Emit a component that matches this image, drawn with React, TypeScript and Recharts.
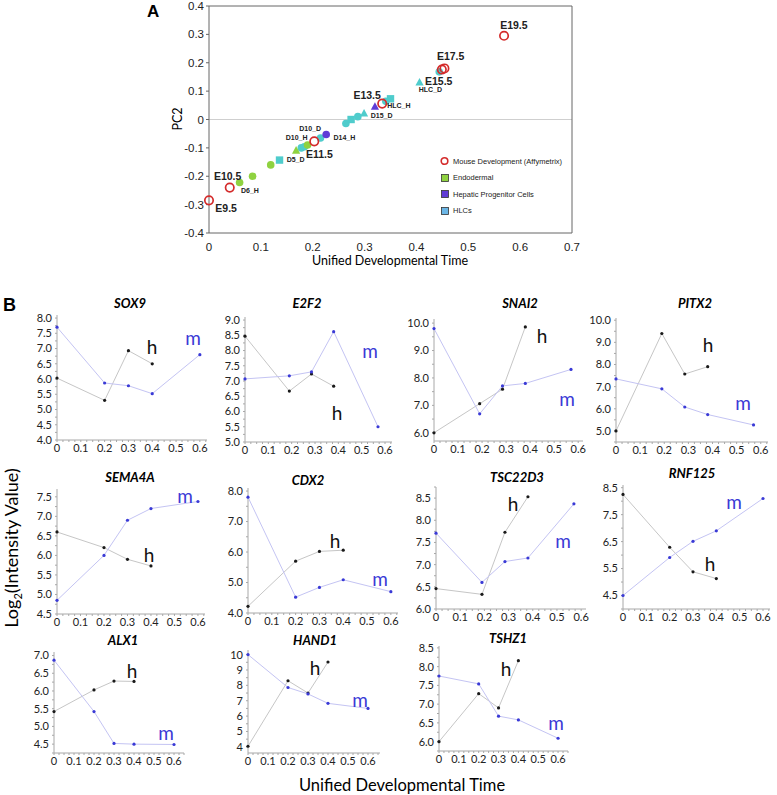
import React from "react";
import { ReferenceLine, Scatter, ScatterChart, XAxis, YAxis } from "recharts";

// ---- panel A: PC2 vs unified developmental time ----
const mouseDevelopment = [
  { x: 0, y: -0.285 },
  { x: 0.04, y: -0.24 },
  { x: 0.203, y: -0.077 },
  { x: 0.334, y: 0.056 },
  { x: 0.449, y: 0.176 },
  { x: 0.454, y: 0.18 },
  { x: 0.569, y: 0.295 },
];

const endodermal = [
  { x: 0.059, y: -0.222, marker: "circle" },
  { x: 0.084, y: -0.2, marker: "circle" },
  { x: 0.119, y: -0.16, marker: "circle" },
  { x: 0.168, y: -0.11, marker: "triangle" },
  { x: 0.19, y: -0.09, marker: "circle" },
];

const progenitor = [
  { x: 0.226, y: -0.053, marker: "circle" },
  { x: 0.32, y: 0.045, marker: "triangle" },
];

const hlcs = [
  { x: 0.136, y: -0.143, marker: "square" },
  { x: 0.178, y: -0.1, marker: "circle" },
  { x: 0.184, y: -0.096, marker: "circle" },
  { x: 0.215, y: -0.065, marker: "circle" },
  { x: 0.264, y: -0.014, marker: "circle" },
  { x: 0.274, y: 0.0, marker: "square" },
  { x: 0.287, y: 0.01, marker: "circle" },
  { x: 0.299, y: 0.021, marker: "triangle" },
  { x: 0.341, y: 0.064, marker: "circle" },
  { x: 0.35, y: 0.073, marker: "square" },
  { x: 0.406, y: 0.13, marker: "triangle" },
  { x: 0.444, y: 0.168, marker: "circle" },
];

const stageLabels = [
  { x: 0.033, y: -0.326, text: "E9.5" },
  { x: 0.036, y: -0.214, text: "E10.5" },
  { x: 0.213, y: -0.137, text: "E11.5" },
  { x: 0.305, y: 0.074, text: "E13.5" },
  { x: 0.443, y: 0.123, text: "E15.5" },
  { x: 0.466, y: 0.21, text: "E17.5" },
  { x: 0.588, y: 0.319, text: "E19.5" },
];

const sampleLabels = [
  { x: 0.079, y: -0.26, text: "D6_H" },
  { x: 0.167, y: -0.151, text: "D5_D" },
  { x: 0.169, y: -0.074, text: "D10_H" },
  { x: 0.195, y: -0.039, text: "D10_D" },
  { x: 0.261, y: -0.074, text: "D14_H" },
  { x: 0.333, y: 0.004, text: "D15_D" },
  { x: 0.366, y: 0.039, text: "HLC_H" },
  { x: 0.427, y: 0.098, text: "HLC_D" },
];

const pcTicks = [-0.4, -0.3, -0.2, -0.1, 0, 0.1, 0.2, 0.3, 0.4];
const timeTicksA = [0, 0.1, 0.2, 0.3, 0.4, 0.5, 0.6, 0.7];
const legendItems = ["Mouse Development (Affymetrix)", "Endodermal", "Hepatic Progenitor Cells", "HLCs"];

// ---- panel B: log2 intensity per gene ----
const timeEven = [0, 0.2, 0.3, 0.4, 0.6];
const timeShifted = [0, 0.19, 0.285, 0.38, 0.57];
const timeTicksB = [0, 0.1, 0.2, 0.3, 0.4, 0.5, 0.6];

const sox9Mouse = [7.7, 5.87, 5.78, 5.52, 6.8];
const sox9Human = [6.03, 5.3, 6.93, 6.5];
const e2f2Mouse = [7.07, 7.17, 7.3, 8.62, 5.5];
const e2f2Human = [8.47, 6.67, 7.23, 6.83];
const snai2Mouse = [9.8, 6.69, 7.71, 7.8, 8.31];
const snai2Human = [6.0, 7.06, 7.59, 9.86];
const pitx2Mouse = [7.35, 6.9, 6.08, 5.74, 5.27];
const pitx2Human = [5.0, 9.4, 7.57, 7.9];
const sema4aMouse = [4.85, 6.0, 6.9, 7.2, 7.38];
const sema4aHuman = [6.6, 6.2, 5.9, 5.73];
const cdx2Mouse = [7.8, 4.52, 4.84, 5.09, 4.7];
const cdx2Human = [4.22, 5.7, 6.02, 6.06];
const tsc22d3Mouse = [7.71, 6.6, 7.07, 7.15, 8.37];
const tsc22d3Human = [6.46, 6.33, 7.73, 8.53];
const rnf125Mouse = [4.5, 5.91, 6.51, 6.9, 8.1];
const rnf125Human = [8.25, 6.29, 5.38, 5.13];
const alx1Mouse = [6.87, 5.42, 4.52, 4.5, 4.49];
const alx1Human = [5.42, 6.03, 6.28, 6.27];
const hand1Mouse = [10.0, 7.86, 7.44, 6.83, 6.5];
const hand1Human = [4.04, 8.3, 7.5, 9.52];
const tshz1Mouse = [7.75, 7.54, 6.68, 6.58, 6.09];
const tshz1Human = [6.0, 7.28, 6.9, 8.16];

type Box = { left: number; top: number; right: number; bottom: number };
type Pt = [number, number];

type GeneSpec = {
  gene: string;
  time: number[];
  mouse: number[];
  human: number[];
  yDomain: [number, number];
  yTicks: number[];
  digits: number;
  xMax: number;
  box: Box;
  title: Pt;
  hPos: Pt;
  mPos: Pt;
};

const genes: GeneSpec[] = [
  { gene: "SOX9", time: timeEven, mouse: sox9Mouse, human: sox9Human, yDomain: [4, 8.1], yTicks: [4, 4.5, 5, 5.5, 6, 6.5, 7, 7.5, 8], digits: 1, xMax: 0.63, box: { left: 57, top: 315, right: 207, bottom: 440 }, title: [130, 303], hPos: [152, 346], mPos: [193, 337] },
  { gene: "E2F2", time: timeShifted, mouse: e2f2Mouse, human: e2f2Human, yDomain: [5, 9.1], yTicks: [5, 5.5, 6, 6.5, 7, 7.5, 8, 8.5, 9], digits: 1, xMax: 0.63, box: { left: 245, top: 317, right: 392, bottom: 442 }, title: [307, 303], hPos: [337, 412], mPos: [370, 350] },
  { gene: "SNAI2", time: timeShifted, mouse: snai2Mouse, human: snai2Human, yDomain: [5.7, 10.15], yTicks: [6, 7, 8, 9, 10], digits: 1, xMax: 0.62, box: { left: 434, top: 319, right: 583, bottom: 441 }, title: [520, 303], hPos: [542, 335], mPos: [567, 398] },
  { gene: "PITX2", time: timeShifted, mouse: pitx2Mouse, human: pitx2Human, yDomain: [4.5, 10.1], yTicks: [5, 6, 7, 8, 9, 10], digits: 1, xMax: 0.63, box: { left: 616, top: 318, right: 768, bottom: 442 }, title: [695, 303], hPos: [708, 344], mPos: [743, 402] },
  { gene: "SEMA4A", time: timeEven, mouse: sema4aMouse, human: sema4aHuman, yDomain: [4.5, 7.7], yTicks: [4.5, 5, 5.5, 6, 6.5, 7, 7.5], digits: 1, xMax: 0.63, box: { left: 57, top: 489, right: 205, bottom: 614 }, title: [130, 477], hPos: [149, 554], mPos: [185, 495] },
  { gene: "CDX2", time: timeEven, mouse: cdx2Mouse, human: cdx2Human, yDomain: [4, 8.1], yTicks: [4, 5, 6, 7, 8], digits: 1, xMax: 0.63, box: { left: 248, top: 488, right: 398, bottom: 613 }, title: [308, 480], hPos: [335, 540], mPos: [380, 578] },
  { gene: "TSC22D3", time: timeShifted, mouse: tsc22d3Mouse, human: tsc22d3Human, yDomain: [6, 8.75], yTicks: [6, 6.5, 7, 7.5, 8, 8.5], digits: 1, xMax: 0.62, box: { left: 436, top: 487, right: 586, bottom: 609 }, title: [517, 477], hPos: [513, 503], mPos: [563, 540] },
  { gene: "RNF125", time: timeEven, mouse: rnf125Mouse, human: rnf125Human, yDomain: [4, 8.6], yTicks: [4.5, 5.5, 6.5, 7.5, 8.5], digits: 1, xMax: 0.63, box: { left: 623, top: 485, right: 770, bottom: 609 }, title: [692, 473], hPos: [710, 563], mPos: [734, 501] },
  { gene: "ALX1", time: timeEven, mouse: alx1Mouse, human: alx1Human, yDomain: [4.25, 7.1], yTicks: [4.5, 5, 5.5, 6, 6.5, 7], digits: 1, xMax: 0.65, box: { left: 54, top: 652, right: 184, bottom: 753 }, title: [123, 640], hPos: [132, 670], mPos: [166, 732] },
  { gene: "HAND1", time: timeEven, mouse: hand1Mouse, human: hand1Human, yDomain: [3.6, 10.3], yTicks: [4, 5, 6, 7, 8, 9, 10], digits: 0, xMax: 0.66, box: { left: 248, top: 650, right: 380, bottom: 753 }, title: [315, 640], hPos: [315, 667], mPos: [360, 699] },
  { gene: "TSHZ1", time: timeEven, mouse: tshz1Mouse, human: tshz1Human, yDomain: [5.75, 8.55], yTicks: [6, 6.5, 7, 7.5, 8, 8.5], digits: 1, xMax: 0.65, box: { left: 439, top: 646, right: 568, bottom: 751 }, title: [508, 638], hPos: [506, 668], mPos: [556, 722] },
];

const MOUSE_RED = "#d42b2b";
const ENDO_GREEN = "#8fd240";
const PROG_PURPLE = "#5f3bd6";
const HLC_CYAN = "#4fcccc";
const M_BLUE = "#3a3ad6";
const M_LINE = "#c4c4f3";
const H_LINE = "#c6c6c6";
const AXIS_GRAY = "#a8a8a8";
const SANS = "Lato, 'Liberation Sans', sans-serif";
const ARIAL = "'Liberation Sans', Arial, sans-serif";

function markerShape(fill: string) {
  return (props: any) => {
    const { cx, cy, payload } = props;
    if (cx == null || cy == null) return <g />;
    if (payload.marker === "square") {
      return <rect x={cx - 3.7} y={cy - 3.7} width={7.4} height={7.4} fill={fill} />;
    }
    if (payload.marker === "triangle") {
      return <polygon points={`${cx},${cy - 4.6} ${cx + 4.1},${cy + 3} ${cx - 4.1},${cy + 3}`} fill={fill} />;
    }
    return <circle cx={cx} cy={cy} r={3.8} fill={fill} />;
  };
}

function openCircle(props: any) {
  const { cx, cy } = props;
  if (cx == null || cy == null) return <g />;
  return <circle cx={cx} cy={cy} r={4.2} fill="none" stroke={MOUSE_RED} strokeWidth={1.7} />;
}

function textShape(size: number) {
  return (props: any) => {
    const { cx, cy, payload } = props;
    if (cx == null || cy == null) return <g />;
    return (
      <text x={cx} y={cy} textAnchor="middle" fontSize={size} fontWeight="bold" fontFamily={ARIAL} fill="#222">
        {payload.text}
      </text>
    );
  };
}

function smallDot(fill: string) {
  return (props: any) => {
    const { cx, cy } = props;
    if (cx == null || cy == null) return <g />;
    return <circle cx={cx} cy={cy} r={1.6} fill={fill} stroke="none" />;
  };
}

const fmtTime = (v: number) => (v === 0 ? "0" : v.toFixed(1));

// minor ticks get no label, only a short mark
function withMinor(major: number[], parts: number, max: number) {
  const step = (major[1] - major[0]) / parts;
  const out: number[] = [];
  const start = major[0] - step * Math.floor(parts);
  for (let v = start; v <= max + 1e-9; v += step) {
    out.push(Math.round(v * 1000) / 1000);
  }
  return out;
}

const isMajor = (v: number, major: number[]) => major.some((m) => Math.abs(m - v) < 1e-6);

function PanelA() {
  // plot area: x 209..572, y 6..233
  return (
    <>
      <div style={{ position: "absolute", left: 150, top: 0 }}>
        <ScatterChart width={432} height={273} margin={{ top: 6, right: 10, bottom: 0, left: 0 }}>
          <XAxis
            type="number"
            dataKey="x"
            domain={[0, 0.7]}
            ticks={timeTicksA}
            tickFormatter={fmtTime}
            height={40}
            stroke="#666"
            tickLine={false}
            tick={{ fontSize: 11.5, fill: "#222", fontFamily: ARIAL }}
            tickMargin={4}
          />
          <YAxis
            type="number"
            dataKey="y"
            domain={[-0.4, 0.4]}
            ticks={pcTicks}
            tickFormatter={fmtTime}
            width={59}
            stroke="#666"
            tickSize={3}
            tick={{ fontSize: 11.5, fill: "#222", fontFamily: ARIAL }}
          />
          <ReferenceLine y={0} stroke="#cfcfcf" />
          <ReferenceLine y={0.4} stroke="#666" />
          <ReferenceLine x={0.7} stroke="#666" />
          <Scatter data={hlcs} shape={markerShape(HLC_CYAN)} isAnimationActive={false} />
          <Scatter data={endodermal} shape={markerShape(ENDO_GREEN)} isAnimationActive={false} />
          <Scatter data={progenitor} shape={markerShape(PROG_PURPLE)} isAnimationActive={false} />
          <Scatter data={mouseDevelopment} shape={openCircle} isAnimationActive={false} />
          <Scatter data={stageLabels} shape={textShape(10.5)} isAnimationActive={false} />
          <Scatter data={sampleLabels} shape={textShape(7)} isAnimationActive={false} />
        </ScatterChart>
      </div>
      <div style={{ position: "absolute", left: 147, top: 2, fontFamily: ARIAL, fontWeight: "bold", fontSize: 17 }}>A</div>
      <div
        style={{
          position: "absolute",
          left: 177,
          top: 119,
          transform: "translate(-50%, -50%) rotate(-90deg)",
          fontFamily: SANS,
          fontSize: 12.5,
          whiteSpace: "nowrap",
        }}
      >
        PC2
      </div>
      <div
        style={{
          position: "absolute",
          left: 390,
          top: 260,
          transform: "translate(-50%, -50%)",
          fontFamily: SANS,
          fontSize: 12.5,
          whiteSpace: "nowrap",
        }}
      >
        Unified Developmental Time
      </div>
      <div style={{ position: "absolute", left: 440, top: 153, fontFamily: ARIAL, fontSize: 7.5, color: "#222" }}>
        {legendItems.map((label, i) => (
          <div key={label} style={{ display: "flex", alignItems: "center", height: 16.5 }}>
            <svg width={12} height={10}>
              {i === 0 ? (
                <circle cx={4.5} cy={5} r={3.3} fill="none" stroke={MOUSE_RED} strokeWidth={1.6} />
              ) : (
                <rect
                  x={1.5}
                  y={1.5}
                  width={7}
                  height={7}
                  fill={[ENDO_GREEN, PROG_PURPLE, "#6bb6e6"][i - 1]}
                  stroke="#333"
                  strokeWidth={0.8}
                />
              )}
            </svg>
            <span style={{ marginLeft: 1 }}>{label}</span>
          </div>
        ))}
      </div>
    </>
  );
}

function GenePanel({ spec }: { spec: GeneSpec }) {
  const yw = 32;
  const mt = 4;
  const mr = 6;
  const xh = 20;
  const { box } = spec;
  const plotW = box.right - box.left;
  const plotH = box.bottom - box.top;
  const mouseData = spec.mouse.map((y, i) => ({ x: spec.time[i], y }));
  const humanData = spec.human.map((y, i) => ({ x: spec.time[i], y }));
  const tickStyle = { fontSize: 11, fill: "#222", fontFamily: SANS };

  const xAll = withMinor(timeTicksB, 4, spec.xMax).filter((v) => v >= 0);
  const yAll = withMinor(spec.yTicks, 2, spec.yDomain[1]).filter((v) => v >= spec.yDomain[0]);

  return (
    <>
      <div style={{ position: "absolute", left: box.left - yw, top: box.top - mt }}>
        <ScatterChart width={yw + plotW + mr} height={mt + plotH + xh} margin={{ top: mt, right: mr, bottom: 0, left: 0 }}>
          <XAxis
            type="number"
            dataKey="x"
            domain={[0, spec.xMax]}
            ticks={xAll}
            tickFormatter={(v: number) => (isMajor(v, timeTicksB) ? fmtTime(v) : "")}
            height={xh}
            stroke={AXIS_GRAY}
            tickSize={2}
            tickMargin={2}
            interval={0}
            tick={tickStyle}
          />
          <YAxis
            type="number"
            dataKey="y"
            domain={spec.yDomain}
            ticks={yAll}
            tickFormatter={(v: number) => (isMajor(v, spec.yTicks) ? v.toFixed(spec.digits) : "")}
            width={yw}
            stroke={AXIS_GRAY}
            tickSize={2}
            tickMargin={3}
            interval={0}
            tick={tickStyle}
          />
          <Scatter
            data={humanData}
            fill={H_LINE}
            stroke={H_LINE}
            line={{ stroke: H_LINE, strokeWidth: 1 }}
            shape={smallDot("#1a1a1a")}
            isAnimationActive={false}
          />
          <Scatter
            data={mouseData}
            fill={M_LINE}
            stroke={M_LINE}
            line={{ stroke: M_LINE, strokeWidth: 1 }}
            shape={smallDot(M_BLUE)}
            isAnimationActive={false}
          />
        </ScatterChart>
      </div>
      <div
        style={{
          position: "absolute",
          left: spec.title[0],
          top: spec.title[1],
          transform: "translate(-50%, -50%)",
          fontFamily: SANS,
          fontWeight: "bold",
          fontStyle: "italic",
          fontSize: 13,
          whiteSpace: "nowrap",
        }}
      >
        {spec.gene}
      </div>
      <div style={{ position: "absolute", left: spec.hPos[0], top: spec.hPos[1], transform: "translate(-50%, -50%)", fontFamily: SANS, fontSize: 19, color: "#111" }}>
        h
      </div>
      <div style={{ position: "absolute", left: spec.mPos[0], top: spec.mPos[1], transform: "translate(-50%, -50%)", fontFamily: SANS, fontSize: 19, color: M_BLUE }}>
        m
      </div>
    </>
  );
}

export default function App() {
  return (
    <div style={{ position: "absolute", left: 0, top: 0, width: 777, height: 795, background: "#fff", overflow: "hidden" }}>
      <PanelA />
      <div style={{ position: "absolute", left: 3, top: 295, fontFamily: ARIAL, fontWeight: "bold", fontSize: 18 }}>B</div>
      <div
        style={{
          position: "absolute",
          left: 12,
          top: 548,
          transform: "translate(-50%, -50%) rotate(-90deg)",
          fontFamily: SANS,
          fontSize: 18,
          whiteSpace: "nowrap",
        }}
      >
        Log<sub style={{ fontSize: 11 }}>2</sub>(Intensity Value)
      </div>
      <div
        style={{
          position: "absolute",
          left: 402,
          top: 785,
          transform: "translate(-50%, -50%)",
          fontFamily: SANS,
          fontSize: 16.5,
          whiteSpace: "nowrap",
        }}
      >
        Unified Developmental Time
      </div>
      {genes.map((g) => (
        <GenePanel key={g.gene} spec={g} />
      ))}
    </div>
  );
}
